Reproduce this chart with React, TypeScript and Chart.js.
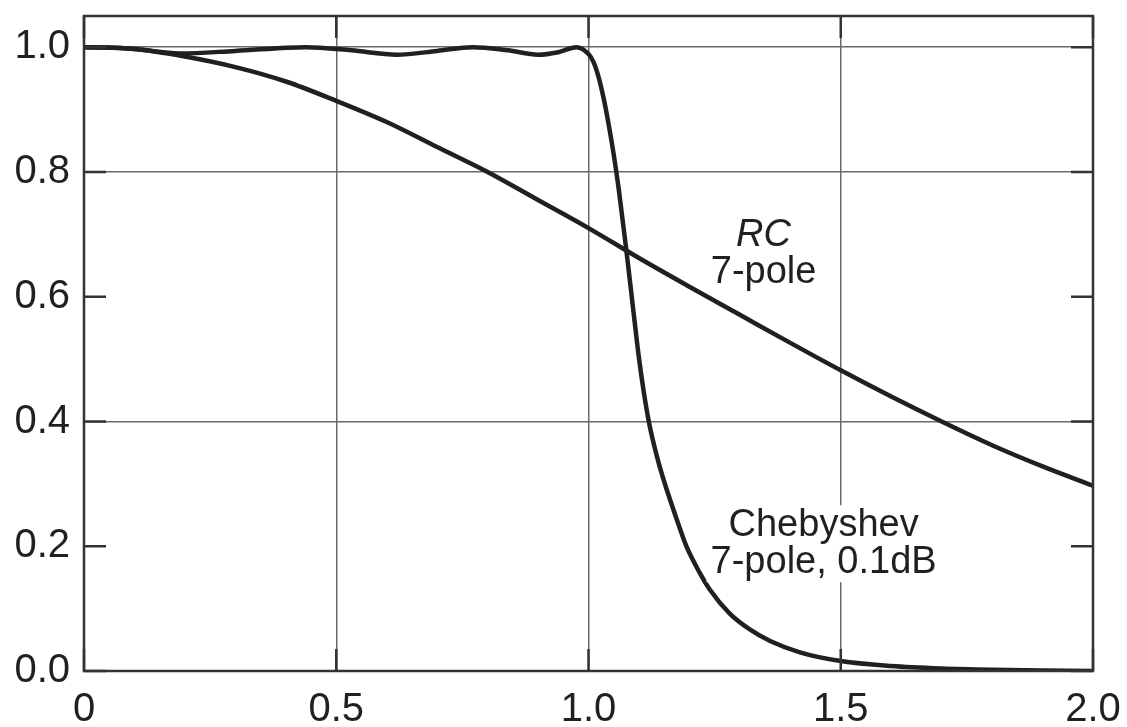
import React, { useEffect, useRef } from "react";
import { Chart, registerables } from "chart.js";

Chart.register(...registerables);

// ---- data ----
const xTickValues = [0, 0.5, 1.0, 1.5, 2.0];
const xTickLabels = ["0", "0.5", "1.0", "1.5", "2.0"];
const yTickValues = [0, 0.2, 0.4, 0.6, 0.8, 1.0];
const yTickLabels = ["0.0", "0.2", "0.4", "0.6", "0.8", "1.0"];
const xGridShown = [0.5, 1.0, 1.5];
const yGridShown = [0.4, 0.8, 1.0];

const rcFreq = [0, 0.1, 0.2, 0.3, 0.4, 0.5, 0.6, 0.7, 0.8, 0.9, 1.0, 1.1, 1.2, 1.3, 1.4, 1.5, 1.6, 1.7, 1.8, 1.9, 2.0];
const rcGain = [1.0, 0.997, 0.985, 0.968, 0.945, 0.914, 0.88, 0.84, 0.8, 0.755, 0.71, 0.662, 0.616, 0.571, 0.526, 0.482, 0.44, 0.4, 0.362, 0.328, 0.297];

const chebFreq = [
  0, 0.05, 0.1, 0.19, 0.3, 0.44, 0.53, 0.62, 0.7, 0.77, 0.84, 0.9, 0.94, 0.976,
  1.0, 1.01, 1.02, 1.03, 1.04, 1.05, 1.06, 1.075, 1.09, 1.1, 1.11, 1.12, 1.13, 1.14, 1.155,
  1.175, 1.194, 1.22, 1.24, 1.28, 1.319, 1.36, 1.419, 1.5, 1.6, 1.7, 1.8, 1.9, 2.0,
];
const chebGain = [
  1.0, 0.9995, 0.997, 0.99, 0.994, 1.0, 0.995, 0.988, 0.994, 1.0, 0.995, 0.988, 0.992, 1.0,
  0.989, 0.976, 0.952, 0.918, 0.876, 0.828, 0.772, 0.675, 0.57, 0.502, 0.445, 0.398, 0.362, 0.331, 0.291,
  0.243, 0.2, 0.158, 0.131, 0.092, 0.067, 0.048, 0.03, 0.016, 0.008, 0.004, 0.002, 0.001, 0.0,
];

// text annotations: anchor in data units (centre x, baseline of first line)
const annotations = [
  { lines: ["RC", "7-pole"], italic: [true, false], x: 1.347, y: 0.682 },
  { lines: ["Chebyshev", "7-pole, 0.1dB"], italic: [false, false], x: 1.466, y: 0.216 },
];

const INK = "#231f20";
const FONT = '"Liberation Sans", Arial, Helvetica, sans-serif';

const framePlugin = {
  id: "frame",
  afterDraw(chart: any) {
    const { ctx, chartArea } = chart;
    const { left, right, top, bottom } = chartArea;
    const xs = chart.scales.x;
    const ys = chart.scales.y;
    ctx.save();
    // annotations with white background
    ctx.textAlign = "center";
    ctx.textBaseline = "alphabetic";
    for (const a of annotations) {
      const cx = xs.getPixelForValue(a.x);
      const by = ys.getPixelForValue(a.y);
      a.lines.forEach((line, i) => {
        ctx.font = `${a.italic[i] ? "italic " : ""}38px ${FONT}`;
        const w = ctx.measureText(line).width;
        const y = by + i * 37;
        ctx.fillStyle = "#ffffff";
        ctx.fillRect(cx - w / 2 - 4, y - 31, w + 8, 40);
      });
      a.lines.forEach((line, i) => {
        ctx.font = `${a.italic[i] ? "italic " : ""}38px ${FONT}`;
        ctx.fillStyle = INK;
        ctx.fillText(line, cx, by + i * 37);
      });
    }
    // inward ticks
    ctx.strokeStyle = "#333333";
    ctx.lineWidth = 2.5;
    const tl = 22;
    ctx.beginPath();
    for (const v of xTickValues) {
      const px = xs.getPixelForValue(v);
      ctx.moveTo(px, bottom);
      ctx.lineTo(px, bottom - tl);
      ctx.moveTo(px, top);
      ctx.lineTo(px, top + tl);
    }
    for (const v of yTickValues) {
      const py = ys.getPixelForValue(v);
      ctx.moveTo(left, py);
      ctx.lineTo(left + tl, py);
      ctx.moveTo(right, py);
      ctx.lineTo(right - tl, py);
    }
    ctx.stroke();
    // frame
    ctx.strokeStyle = "#333333";
    ctx.lineWidth = 2.5;
    ctx.strokeRect(left, top, right - left, bottom - top);
    ctx.restore();
  },
};

export default function App() {
  const canvasRef = useRef<HTMLCanvasElement | null>(null);

  useEffect(() => {
    const canvas = canvasRef.current;
    if (!canvas) return;
    const chart = new Chart(canvas, {
      type: "line",
      data: {
        datasets: [
          {
            label: "RC 7-pole",
            data: rcFreq.map((f, i) => ({ x: f, y: rcGain[i] })),
            borderColor: INK,
            borderWidth: 4.5,
            pointRadius: 0,
            fill: false,
            cubicInterpolationMode: "monotone",
          },
          {
            label: "Chebyshev 7-pole, 0.1dB",
            data: chebFreq.map((f, i) => ({ x: f, y: chebGain[i] })),
            borderColor: INK,
            borderWidth: 4.5,
            pointRadius: 0,
            fill: false,
            cubicInterpolationMode: "monotone",
          },
        ],
      },
      options: {
        responsive: false,
        animation: false,
        events: [],
        layout: { padding: { left: 0, right: 34, top: 16, bottom: 0 } },
        plugins: {
          legend: { display: false },
          tooltip: { enabled: false },
        },
        scales: {
          x: {
            type: "linear",
            min: 0,
            max: 2.0,
            afterBuildTicks: (scale: any) => {
              scale.ticks = xTickValues.map((v) => ({ value: v }));
            },
            afterFit: (scale: any) => {
              scale.height = 56;
              scale.paddingLeft = 0;
              scale.paddingRight = 0;
            },
            ticks: {
              padding: 15,
              maxRotation: 0,
              autoSkip: false,
              color: INK,
              font: { family: FONT, size: 40 },
              callback: (_v: any, i: number) => xTickLabels[i],
            },
            grid: {
              drawTicks: false,
              lineWidth: 1.5,
              color: (c: any) =>
                c.tick && xGridShown.includes(c.tick.value) ? "#6a6a6a" : "rgba(0,0,0,0)",
            },
            border: { display: false },
          },
          y: {
            type: "linear",
            min: 0,
            max: 1.05,
            afterBuildTicks: (scale: any) => {
              scale.ticks = yTickValues.map((v) => ({ value: v }));
            },
            afterFit: (scale: any) => {
              scale.width = 84;
              scale.paddingTop = 0;
              scale.paddingBottom = 0;
            },
            ticks: {
              padding: 14,
              autoSkip: false,
              color: INK,
              font: { family: FONT, size: 40 },
              callback: (_v: any, i: number) => yTickLabels[i],
            },
            grid: {
              drawTicks: false,
              lineWidth: 1.5,
              color: (c: any) =>
                c.tick && yGridShown.includes(c.tick.value) ? "#6a6a6a" : "rgba(0,0,0,0)",
            },
            border: { display: false },
          },
        },
      },
      plugins: [framePlugin],
    });
    return () => chart.destroy();
  }, []);

  return (
    <div style={{ position: "fixed", left: 0, top: 0, width: 1127, height: 727, background: "#fff" }}>
      <canvas ref={canvasRef} width={1127} height={727} style={{ display: "block" }} />
    </div>
  );
}
